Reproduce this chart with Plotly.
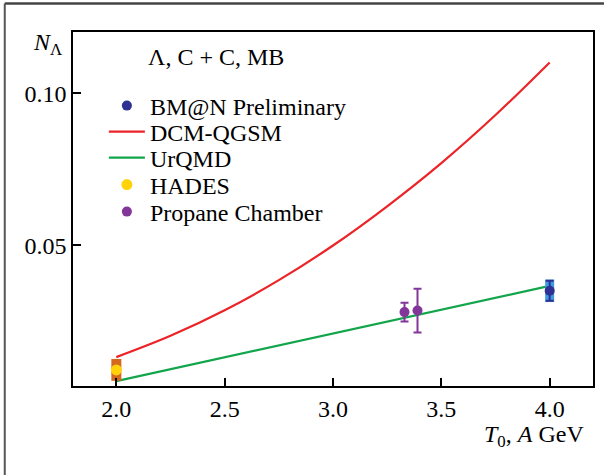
import plotly.graph_objects as go

# Model curves: Lambda yield vs kinetic energy per nucleon
t0_dcm = [2.0, 2.25, 2.5, 2.75, 3.0, 3.25, 3.5, 3.75, 4.0]
n_dcm = [0.0133, 0.0203, 0.0287, 0.0386, 0.0500, 0.0629, 0.0771, 0.0929, 0.1102]

t0_urqmd = [2.0, 3.0, 4.0]
n_urqmd = [0.0054, 0.0210, 0.0367]

# Experimental points
t0_bmn = [4.0]
n_bmn = [0.0351]
stat_bmn = [0.0033]
sys_bmn = [0.0037]

t0_hades = [2.0]
n_hades = [0.0091]
sys_hades = [0.0036]

t0_propane = [3.33, 3.39]
n_propane = [0.0281, 0.0286]
err_propane = [0.0031, 0.0072]

x_ticks = [2.0, 2.5, 3.0, 3.5, 4.0]
y_ticks = [0.05, 0.10]

FONT = "Liberation Serif"
FS = 24
RED = "#EC2327"
GREEN = "#12A54C"
NAVY = "#2E3192"
SKY = "#3D9BE0"
PURPLE = "#83369A"
ORANGE = "#D2691E"
YELLOW = "#FFD20A"

fig = go.Figure()

fig.add_trace(go.Scatter(x=t0_dcm, y=n_dcm, mode="lines", name="DCM-QGSM",
                         line=dict(color=RED, width=2.2, shape="spline"),
                         legend="legend2"))
fig.add_trace(go.Scatter(x=t0_urqmd, y=n_urqmd, mode="lines", name="UrQMD",
                         line=dict(color=GREEN, width=2.2),
                         legend="legend3"))

# systematic-uncertainty boxes as thick error bars
fig.add_trace(go.Scatter(x=t0_hades, y=n_hades, mode="markers", showlegend=False,
                         marker=dict(size=1, opacity=0),
                         error_y=dict(type="data", array=sys_hades, width=0,
                                      thickness=10, color=ORANGE)))
fig.add_trace(go.Scatter(x=t0_bmn, y=n_bmn, mode="markers", showlegend=False,
                         marker=dict(size=1, opacity=0),
                         error_y=dict(type="data", array=sys_bmn, width=0,
                                      thickness=9, color=SKY)))

# statistical error bars
fig.add_trace(go.Scatter(x=t0_bmn, y=n_bmn, mode="markers", showlegend=False,
                         marker=dict(size=1, opacity=0),
                         error_y=dict(type="data", array=stat_bmn, width=4,
                                      thickness=2, color=NAVY)))
fig.add_trace(go.Scatter(x=t0_propane, y=n_propane, mode="markers", showlegend=False,
                         marker=dict(size=1, opacity=0),
                         error_y=dict(type="data", array=err_propane, width=4,
                                      thickness=2, color=PURPLE)))

# markers
fig.add_trace(go.Scatter(x=t0_bmn, y=n_bmn, mode="markers", name="BM@N Preliminary",
                         marker=dict(size=10, color=NAVY), legend="legend"))
fig.add_trace(go.Scatter(x=t0_hades, y=n_hades, mode="markers", name="HADES",
                         marker=dict(size=11, color=YELLOW), legend="legend4"))
fig.add_trace(go.Scatter(x=t0_propane, y=n_propane, mode="markers", name="Propane Chamber",
                         marker=dict(size=10, color=PURPLE), legend="legend5"))

# plot area: x 73..595 px, y 32..386 px
L, R, T, B = 73, 11, 32, 89
W, H = 606, 475
pw, ph = W - L - R, H - T - B


def px(x):
    return (x - L) / pw


def py(y):
    return (H - B - y) / ph


legend_rows = [106, 132, 158, 185, 212]
legend_common = dict(font=dict(family=FONT, size=FS, color="black"),
                     bgcolor="rgba(0,0,0,0)", borderwidth=0, itemwidth=36,
                     xanchor="left", yanchor="middle", x=px(104))
layout_legends = {}
for i, row in enumerate(legend_rows):
    key = "legend" if i == 0 else f"legend{i + 1}"
    layout_legends[key] = dict(legend_common, y=py(row))

axis_common = dict(showline=True, linecolor="black", linewidth=1.5, mirror=True,
                   ticks="inside", ticklen=8, tickwidth=1.5, tickcolor="black",
                   showgrid=False, zeroline=False,
                   tickfont=dict(family=FONT, size=FS, color="black"))

fig.update_layout(
    width=W, height=H,
    margin=dict(l=L, r=R, t=T, b=B),
    font=dict(family=FONT, size=FS, color="black"),
    plot_bgcolor="white", paper_bgcolor="white",
    xaxis=dict(axis_common, range=[1.8, 4.2], tickvals=x_ticks, tickformat=".1f"),
    yaxis=dict(axis_common, range=[0.0038, 0.1202], tickvals=y_ticks, tickformat=".2f"),
    annotations=[
        dict(text="Λ, C + C, MB", xref="paper", yref="paper", x=px(146), y=py(57),
             xanchor="left", yanchor="middle", showarrow=False,
             font=dict(family=FONT, size=FS, color="black")),
        dict(text="<i>N</i><sub>Λ</sub>", xref="paper", yref="paper", x=px(64), y=py(44),
             xanchor="right", yanchor="middle", showarrow=False,
             font=dict(family=FONT, size=FS, color="black")),
        dict(text="<i>T</i><sub>0</sub>, <i>A</i> GeV", xref="paper", yref="paper",
             x=px(588), y=py(436), xanchor="right", yanchor="middle", showarrow=False,
             font=dict(family=FONT, size=FS, color="black")),
    ],
    shapes=[
        dict(type="line", xref="paper", yref="paper", x0=px(4.5), x1=px(606),
             y0=py(3.5), y1=py(3.5), line=dict(color="#444444", width=2.5)),
        dict(type="line", xref="paper", yref="paper", x0=px(4.5), x1=px(4.5),
             y0=py(3.5), y1=py(475), line=dict(color="#555555", width=2)),
    ],
    **layout_legends,
)

fig.write_html("out.html")
